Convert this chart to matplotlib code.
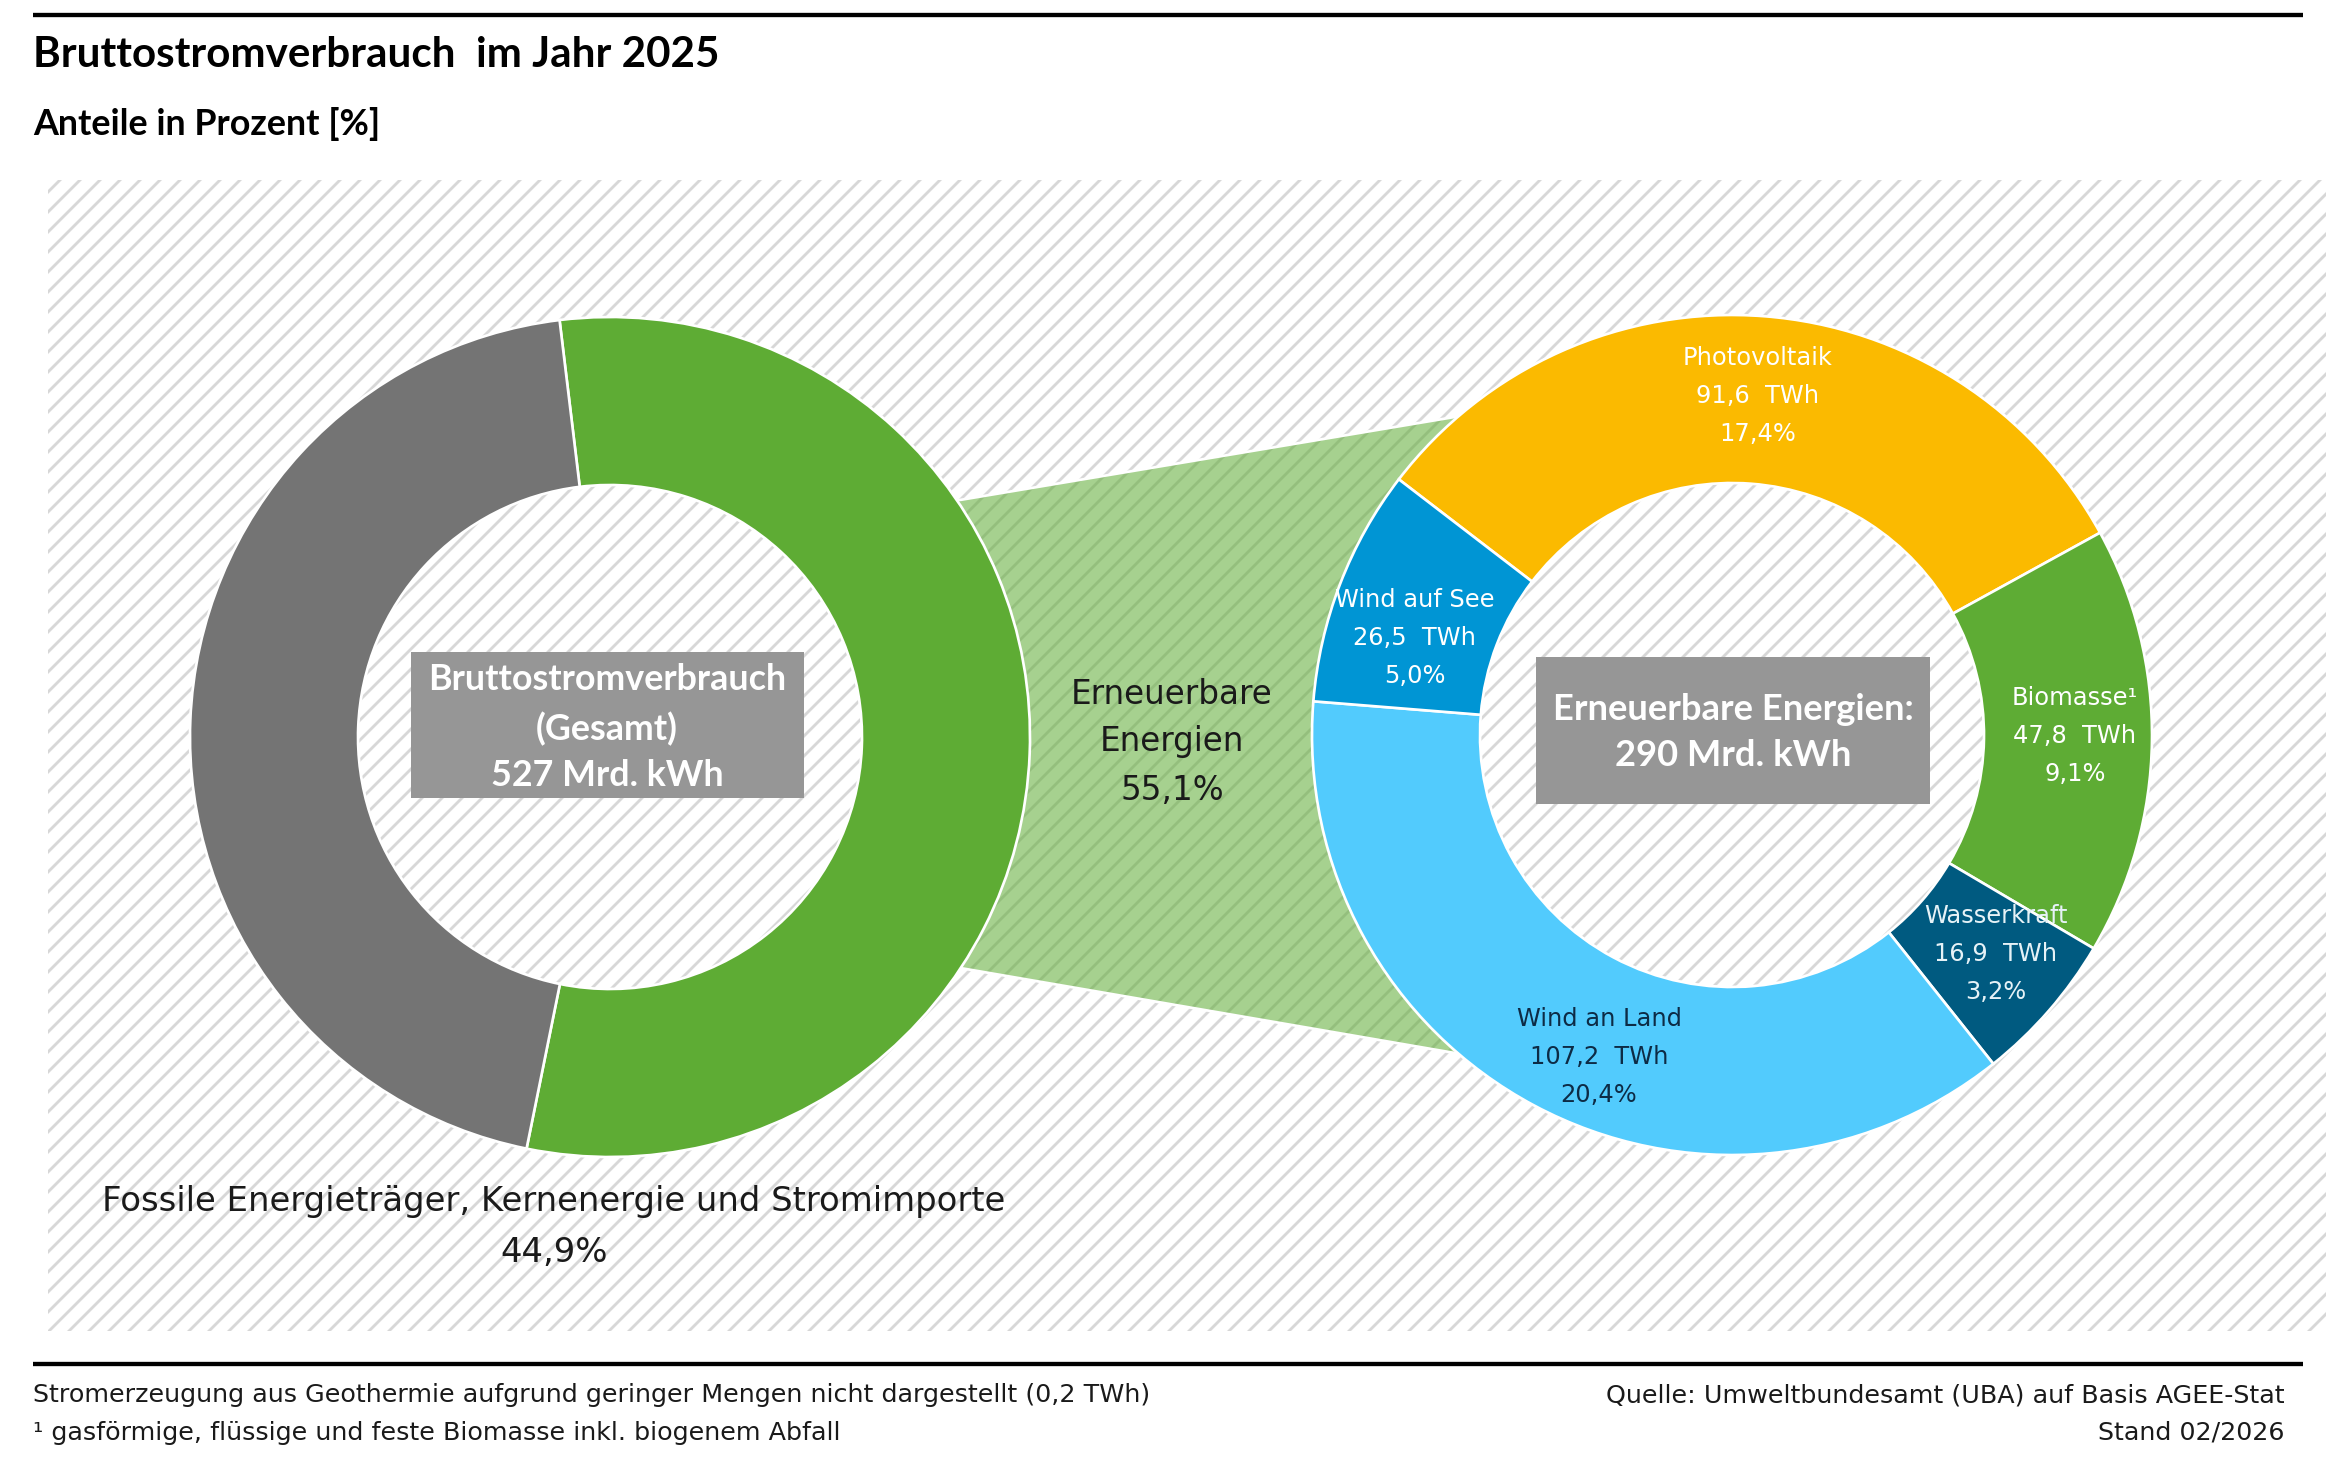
"""
Bruttostromverbrauch 2025: Anteile erneuerbar / fossil und Aufteilung der Erneuerbaren.
"""
import numpy as np
import matplotlib
matplotlib.use("Agg")
import matplotlib.pyplot as plt
from matplotlib.colors import to_rgba
from matplotlib.patches import Rectangle, Polygon

# --- Daten -------------------------------------------------------------
gesamt_namen = ["Erneuerbare Energien", "Fossile Energieträger, Kernenergie und Stromimporte"]
gesamt_anteile = [55.1, 44.9]
gesamt_farben = ["#5eac34", "#747474"]
gesamt_summe = 527  # Mrd. kWh

ee_namen = ["Photovoltaik", "Biomasse¹", "Wasserkraft", "Wind an Land", "Wind auf See"]
ee_twh = [91.6, 47.8, 16.9, 107.2, 26.5]
ee_anteile = [17.4, 9.1, 3.2, 20.4, 5.0]
ee_farben = ["#fbba00", "#5eac34", "#005a80", "#52cbfd", "#0095d4"]
ee_textfarben = ["white", "white", "#e6f2f7", "#0d2b45", "white"]
ee_summe = 290  # Mrd. kWh

# --- Layout (Pixel des Zielbilds) -------------------------------------
W, H, DPI = 2341, 1480, 120
R_AUSSEN, R_INNEN = 420, 252
LINKS = (610, H - 737)
RECHTS = (1732, H - 735)
# Feinkorrektur der Keilbeschriftungen (dx, dy nach unten), Pixel
LABEL_VERSATZ = [(0, 0), (3, -4), (7, -4), (27, 22), (0, 25)]
SCHMAL = "Lato"
NORMAL = "DejaVu Sans"

plt.rcParams["hatch.linewidth"] = 1.7


def de(v, nd=1):
    return f"{v:.{nd}f}".replace(".", ",")


def Y(y):
    return H - y


def auf_kreis(c, r, winkel):
    a = np.deg2rad(winkel)
    return c[0] + r * np.cos(a), c[1] + r * np.sin(a)


fig = plt.figure(figsize=(W / DPI, H / DPI), dpi=DPI)
ax = fig.add_axes([0, 0, 1, 1])

# schraffierter Hintergrund
ax.add_patch(Rectangle((48, Y(1331)), 2278, 1151, facecolor="white",
                       edgecolor="#d7d7d7", hatch="//", linewidth=0, zorder=0))

# linker Ring
ring = dict(width=R_AUSSEN - R_INNEN, edgecolor="white", linewidth=1.6)
ax.pie(gesamt_anteile, colors=gesamt_farben, startangle=96.9, counterclock=False,
       radius=R_AUSSEN, center=LINKS, wedgeprops=ring, frame=True)

# rechter Ring
keile, _ = ax.pie(ee_twh, colors=ee_farben, startangle=142.5, counterclock=False,
                  radius=R_AUSSEN, center=RECHTS, wedgeprops=ring, frame=True)

# Verbindung zwischen den Ringen
ecken = [auf_kreis(LINKS, R_AUSSEN - 2, 34.4), auf_kreis(RECHTS, R_AUSSEN - 2, 130.2),
         auf_kreis(RECHTS, R_AUSSEN - 2, 229.8), auf_kreis(LINKS, R_AUSSEN - 2, -33.5)]
ax.add_patch(Polygon(ecken, closed=True, facecolor=to_rgba("#5eac34", 0.55),
                     edgecolor="white", linewidth=1.6, zorder=0.5))

# Beschriftung der Keile rechts
for k, name, twh, ant, tf, (vx, vy) in zip(keile, ee_namen, ee_twh, ee_anteile,
                                            ee_textfarben, LABEL_VERSATZ):
    mitte = (k.theta1 + k.theta2) / 2
    x, y = auf_kreis(RECHTS, 340, mitte)
    x, y = x + vx, y - vy
    for dy, s in zip([38, 0, -38], [name, f"{de(twh)}  TWh", f"{de(ant)}%"]):
        ax.text(x, y + dy, s, ha="center", va="center", color=tf,
                fontsize=14.5, family=NORMAL, zorder=5)

# graue Kästen in der Mitte
ax.add_patch(Rectangle((411, Y(798)), 393, 146, facecolor="#969696", edgecolor="none", zorder=4))
for yy, s in zip([679, 729, 775], ["Bruttostromverbrauch", "(Gesamt)", f"{gesamt_summe} Mrd. kWh"]):
    ax.text(607, Y(yy), s, ha="center", va="center", color="white", fontsize=21.5,
            fontweight="bold", family=SCHMAL, zorder=5)

ax.add_patch(Rectangle((1536, Y(804)), 394, 147, facecolor="#969696", edgecolor="none", zorder=4))
for yy, s in zip([709, 756], ["Erneuerbare Energien:", f"{ee_summe} Mrd. kWh"]):
    ax.text(1733, Y(yy), s, ha="center", va="center", color="white", fontsize=21.8,
            fontweight="bold", family=SCHMAL, zorder=5)

# Beschriftung links
for yy, s in zip([694, 742, 790], ["Erneuerbare", "Energien", f"{de(gesamt_anteile[0])}%"]):
    ax.text(1172, Y(yy), s, ha="center", va="center", color="#1a1a1a",
            fontsize=19.6, family=NORMAL, zorder=5)
for yy, s in zip([1202, 1253], [gesamt_namen[1], f"{de(gesamt_anteile[1])}%"]):
    ax.text(554, Y(yy), s, ha="center", va="center", color="#1a1a1a",
            fontsize=20.3, family=NORMAL, zorder=5)

# Titel, Linien, Fußnoten
ax.plot([33, 2303], [Y(15), Y(15)], color="black", lw=2.6, solid_capstyle="butt")
ax.plot([33, 2303], [Y(1364), Y(1364)], color="black", lw=2.6, solid_capstyle="butt")
ax.text(33, Y(55), "Bruttostromverbrauch  im Jahr 2025", ha="left", va="center",
        fontsize=25.3, fontweight="bold", family=SCHMAL)
ax.text(33, Y(124), "Anteile in Prozent [%]", ha="left", va="center",
        fontsize=21.5, fontweight="bold", family=SCHMAL)

fuss = dict(fontsize=15.2, family=NORMAL, color="#1a1a1a", va="center")
ax.text(33, Y(1395), "Stromerzeugung aus Geothermie aufgrund geringer Mengen nicht dargestellt (0,2 TWh)",
        ha="left", **fuss)
ax.text(33, Y(1433), "¹ gasförmige, flüssige und feste Biomasse inkl. biogenem Abfall", ha="left", **fuss)
ax.text(2285, Y(1395), "Quelle: Umweltbundesamt (UBA) auf Basis AGEE-Stat", ha="right", **fuss)
ax.text(2285, Y(1433), "Stand 02/2026", ha="right", **fuss)

ax.set_xlim(0, W)
ax.set_ylim(0, H)
ax.set_aspect("equal")
ax.axis("off")

fig.savefig("out.png", dpi=DPI)
